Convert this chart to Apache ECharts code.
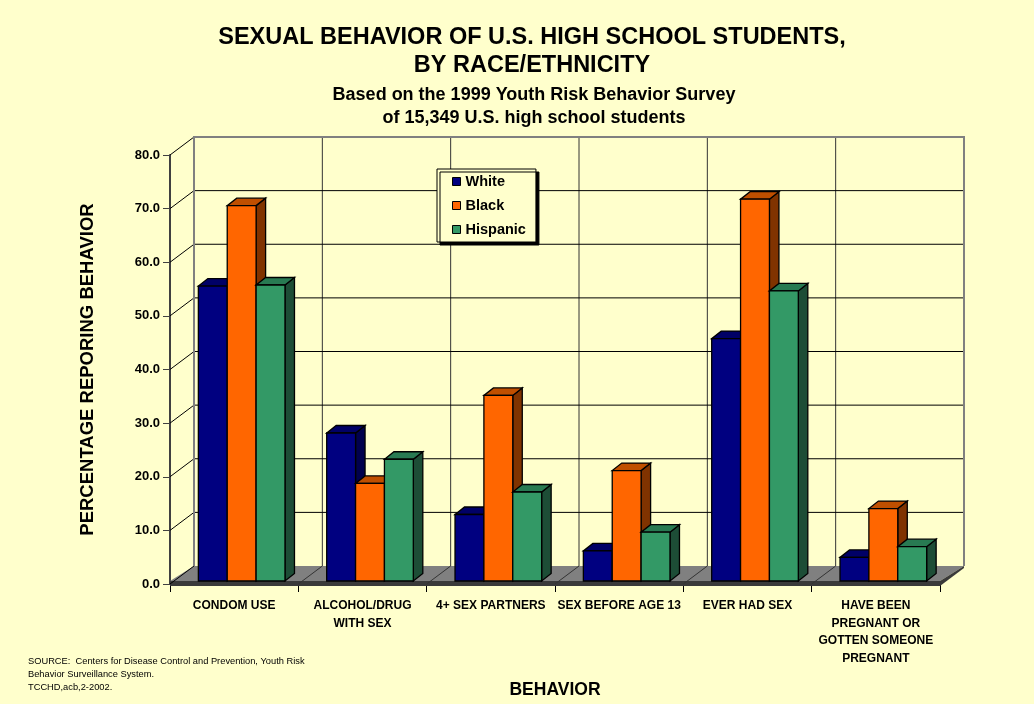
<!DOCTYPE html>
<html><head><meta charset="utf-8">
<script src="https://cdn.jsdelivr.net/npm/echarts@6/dist/echarts.min.js"></script>
<style>html,body{margin:0;padding:0;background:#FFFFCC;} #c{width:1034px;height:704px;}</style>
</head><body><div id="c"></div>
<script>
const categories = ['CONDOM USE', 'ALCOHOL/DRUG\nWITH SEX', '4+ SEX PARTNERS', 'SEX BEFORE AGE 13', 'EVER HAD SEX', 'HAVE BEEN\nPREGNANT OR\nGOTTEN SOMEONE\nPREGNANT'];
const seriesNames = ['White', 'Black', 'Hispanic'];
const white = [55.0, 27.6, 12.4, 5.6, 45.2, 4.4];
const black = [70.0, 18.2, 34.6, 20.6, 71.2, 13.5];
const hispanic = [55.2, 22.7, 16.6, 9.1, 54.1, 6.4];
const yTicks = [0, 10, 20, 30, 40, 50, 60, 70, 80];
const titleLines = 'SEXUAL BEHAVIOR OF U.S. HIGH SCHOOL STUDENTS,\nBY RACE/ETHNICITY';
const subtitleLines = 'Based on the 1999 Youth Risk Behavior Survey\nof 15,349 U.S. high school students';
const sourceLines = 'SOURCE:  Centers for Disease Control and Prevention, Youth Risk\nBehavior Surveillance System.\nTCCHD,acb,2-2002.';

const FONT = '"Liberation Sans", Arial, sans-serif';
const DX = 24, DY = -18, BDX = 9.5, BDY = -7.5, BAR_SHIFT_X = 7.5, BAR_SHIFT_Y = -3;
const palette = [
  {front: '#000080', top: '#000066', side: '#00004D'},
  {front: '#FF6600', top: '#C04F00', side: '#803300'},
  {front: '#339966', top: '#287A52', side: '#1D4D36'}
];

function frameRender(params, api) {
  const cs = params.coordSys;
  const L = cs.x, R = cs.x + cs.width;
  const bw = cs.width / categories.length;
  const y0 = api.coord([0, 0])[1];
  const yTop = api.coord([0, yTicks[yTicks.length - 1]])[1];
  const ch = [];
  ch.push({type: 'polygon', shape: {points: [[L, y0 - 3], [R, y0 - 3], [R + DX, y0 + DY], [L + DX, y0 + DY]]}, style: {fill: '#808080'}});
  ch.push({type: 'rect', shape: {x: L, y: y0 - 3, width: R - L, height: 5}, style: {fill: '#3a3a3a'}});
  ch.push({type: 'polygon', shape: {points: [[R, y0 - 3], [R + DX, y0 + DY], [R + DX, y0 + DY + 2], [R, y0 + 2]]}, style: {fill: '#3a3a3a'}});
  for (let k = 1; k < categories.length; k++) {
    const x = L + k * bw;
    ch.push({type: 'line', shape: {x1: x, y1: y0, x2: x + DX, y2: y0 + DY}, style: {stroke: '#333', lineWidth: 1}});
    ch.push({type: 'line', shape: {x1: x + DX, y1: yTop + DY, x2: x + DX, y2: y0 + DY}, style: {stroke: '#333', lineWidth: 1}});
  }
  yTicks.forEach(function (v) {
    const y = api.coord([0, v])[1];
    if (v !== 0 && v !== yTicks[yTicks.length - 1]) {
      ch.push({type: 'line', shape: {x1: L + DX, y1: y + DY, x2: R + DX, y2: y + DY}, style: {stroke: '#000', lineWidth: 1}});
    }
    ch.push({type: 'line', shape: {x1: L, y1: y, x2: L + DX, y2: y + DY}, style: {stroke: '#000', lineWidth: 1}});
  });
  ch.push({type: 'polyline', shape: {points: [[L + DX, y0 + DY], [L + DX, yTop + DY], [R + DX, yTop + DY], [R + DX, y0 + DY]]}, style: {stroke: '#808080', lineWidth: 2, fill: null}});
  return {type: 'group', children: ch};
}

function barRender(sIdx) {
  return function (params, api) {
    const ci = api.value(0), v = api.value(1);
    const bw = api.size([1, 0])[0];
    const w = bw * 0.675 / 3;
    const c0 = api.coord([ci, 0]), c1 = api.coord([ci, v]);
    const x = c0[0] - 1.5 * w + sIdx * w + BAR_SHIFT_X;
    const yb = c0[1] + BAR_SHIFT_Y, yt = c1[1] + BAR_SHIFT_Y;
    const p = palette[sIdx];
    const st = {stroke: '#000', lineWidth: 1.3, lineJoin: 'miter'};
    return {type: 'group', children: [
      {type: 'polygon', shape: {points: [[x + w, yb], [x + w, yt], [x + w + BDX, yt + BDY], [x + w + BDX, yb + BDY]]}, style: Object.assign({fill: p.side}, st)},
      {type: 'polygon', shape: {points: [[x, yt], [x + w, yt], [x + w + BDX, yt + BDY], [x + BDX, yt + BDY]]}, style: Object.assign({fill: p.top}, st)},
      {type: 'rect', shape: {x: x, y: yt, width: w, height: yb - yt}, style: Object.assign({fill: p.front}, st)}
    ]};
  };
}

const seriesData = [white, black, hispanic];
const chart = echarts.init(document.getElementById('c'), null, {renderer: 'canvas'});
chart.setOption({
  animation: false,
  backgroundColor: '#FFFFCC',
  textStyle: {fontFamily: FONT},
  title: [
    {text: titleLines, left: 527, top: 19, textAlign: 'center', textStyle: {fontFamily: FONT, fontSize: 23.5, fontWeight: 'bold', color: '#000', lineHeight: 28}},
    {text: subtitleLines, left: 529, top: 79, textAlign: 'center', textStyle: {fontFamily: FONT, fontSize: 18, fontWeight: 'bold', color: '#000', lineHeight: 23}}
  ],
  legend: {
    orient: 'vertical', left: 437, top: 169,
    padding: [5, 10, 5, 15], itemGap: 9, itemWidth: 8, itemHeight: 8,
    backgroundColor: '#FFFFCC', borderColor: '#000', borderWidth: 1,
    shadowColor: '#000', shadowBlur: 0, shadowOffsetX: 3, shadowOffsetY: 3,
    textStyle: {fontFamily: FONT, fontSize: 14.5, fontWeight: 'bold', color: '#000'},
    data: seriesNames.map(function (n, i) { return {name: n, icon: 'rect', itemStyle: {color: palette[i].front, borderColor: '#000', borderWidth: 1}}; })
  },
  graphic: [
    {type: 'text', left: 28, top: 655, style: {text: sourceLines, fontFamily: FONT, fontSize: 9.3, lineHeight: 13, fill: '#000'}}
  ],
  grid: {left: 170, right: 94, top: 155, bottom: 119},
  xAxis: {
    type: 'category', data: categories,
    name: 'BEHAVIOR', nameLocation: 'middle', nameGap: 97,
    nameTextStyle: {fontFamily: FONT, fontSize: 17.5, fontWeight: 'bold', color: '#000'},
    axisLine: {show: false},
    axisTick: {show: true, length: 8, lineStyle: {color: '#000', width: 1}},
    axisLabel: {interval: 0, margin: 13, fontFamily: FONT, fontSize: 12, fontWeight: 'bold', color: '#000', lineHeight: 17.5}
  },
  yAxis: {
    type: 'value', min: 0, max: 80, interval: 10,
    name: 'PERCENTAGE REPORING BEHAVIOR', nameLocation: 'middle', nameGap: 73, nameRotate: 90,
    nameTextStyle: {fontFamily: FONT, fontSize: 18.5, fontWeight: 'bold', color: '#000'},
    axisLine: {show: true, lineStyle: {color: '#404040', width: 2}},
    axisTick: {show: true, length: 7, lineStyle: {color: '#404040', width: 1}},
    splitLine: {show: false},
    axisLabel: {margin: 10, fontFamily: FONT, fontSize: 13, fontWeight: 'bold', color: '#000', formatter: function (v) { return v.toFixed(1); }}
  },
  series: [
    {type: 'custom', name: 'frame', z: 1, silent: true, clip: false, renderItem: frameRender, data: [[0, 0]], encode: {x: 0, y: 1}}
  ].concat(seriesNames.map(function (n, i) {
    return {type: 'custom', name: n, z: 2 + i, clip: false, itemStyle: {color: palette[i].front},
      renderItem: barRender(i), encode: {x: 0, y: 1},
      data: seriesData[i].map(function (v, j) { return [j, v]; })};
  }))
});
</script></body></html>
